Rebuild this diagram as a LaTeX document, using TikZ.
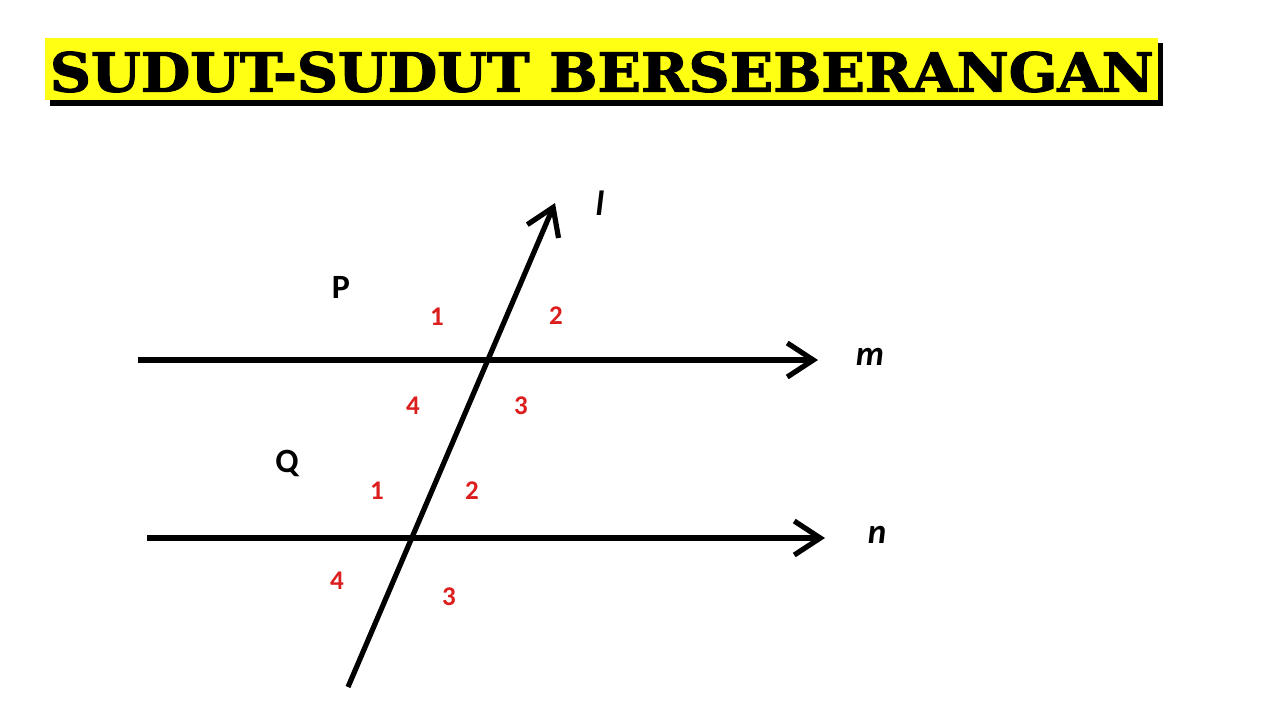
\documentclass[tikz,border=0pt]{standalone}
\usepackage{fontspec}
\usepackage{graphicx}
\setmainfont{Carlito}
\newfontfamily\titlefont{DejaVu Serif}[BoldFont={DejaVu Serif Bold}, BoldFeatures={FakeBold=2}]
\usetikzlibrary{arrows.meta}
\definecolor{titleyellow}{RGB}{255,255,20}
\definecolor{anglered}{RGB}{220,30,30}

\begin{document}
\begin{tikzpicture}[x=0.5pt, y=-0.5pt,
		line-arrow/.style={line width=2.6pt, -{Straight Barb[length=13pt, width=17pt, line width=2.6pt]}},
		angle-number/.style={font=\fontsize{13.5}{15}\selectfont\bfseries, text=anglered},
		point-label/.style={font=\fontsize{17}{19}\selectfont\bfseries},
		line-label/.style={font=\fontsize{17.5}{19}\selectfont\bfseries\itshape}]
				\useasboundingbox (0, 0) rectangle (1280, 720);

				\fill[black] (50, 43) rectangle (1163, 106);
				\fill[titleyellow] (45, 38) rectangle (1158, 100);
				\node[inner sep=0pt] at (602, 72) (title) {\resizebox{552pt}{20pt}{\titlefont\bfseries SUDUT-SUDUT BERSEBERANGAN}};

				\coordinate (m-start) at (138, 360);
				\coordinate (m-end) at (818, 360);
				\coordinate (n-start) at (147, 538);
				\coordinate (n-end) at (825, 538);
				\coordinate (l-start) at (348, 687);
				\coordinate (l-end) at (555, 203);

				\draw[line-arrow] (m-start) -- (m-end);
				\draw[line-arrow] (n-start) -- (n-end);
				\draw[line-arrow] (l-start) -- (l-end);

				\node[line-label] at (600, 203) (l-label) {l};
				\node[line-label] at (870, 357) (m-label) {m};
				\node[line-label] at (877, 535) (n-label) {n};

				\node[point-label] at (341, 287) (p-label) {P};
				\node[point-label] at (287, 463) (q-label) {Q};

				\node[angle-number] at (437, 317) (p-one) {1};
				\node[angle-number] at (556, 316) (p-two) {2};
				\node[angle-number] at (521, 406) (p-three) {3};
				\node[angle-number] at (413, 406) (p-four) {4};

				\node[angle-number] at (377, 491) (q-one) {1};
				\node[angle-number] at (472, 491) (q-two) {2};
				\node[angle-number] at (449, 597) (q-three) {3};
				\node[angle-number] at (337, 581) (q-four) {4};
			\end{tikzpicture}
\end{document}
